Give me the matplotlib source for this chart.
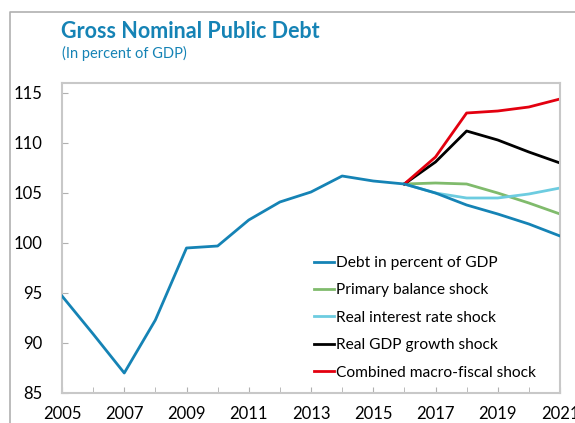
import matplotlib.pyplot as plt
from matplotlib.lines import Line2D

plt.rcParams['font.family'] = ['Lato', 'DejaVu Sans']

# data
years_hist = list(range(2005, 2022))
debt = [94.7, 90.9, 87.0, 92.3, 99.5, 99.7, 102.3, 104.1, 105.1, 106.7,
        106.2, 105.9, 105.0, 103.8, 102.9, 101.9, 100.7]
years_shock = list(range(2016, 2022))
primary_balance = [105.9, 106.0, 105.9, 105.0, 104.0, 102.9]
real_interest = [105.9, 105.0, 104.5, 104.5, 104.9, 105.5]
real_gdp = [105.9, 108.1, 111.2, 110.3, 109.1, 108.0]
combined = [105.9, 108.6, 113.0, 113.2, 113.6, 114.4]

labels = ['Debt in percent of GDP', 'Primary balance shock',
          'Real interest rate shock', 'Real GDP growth shock',
          'Combined macro-fiscal shock']
colors = ['#1583b5', '#80bb6c', '#6dcce0', '#000000', '#e3000f']

W, H = 575, 423
fig = plt.figure(figsize=(W / 100, H / 100), dpi=100)
ax = fig.add_axes([62 / W, 1 - 393 / H, (560 - 62) / W, (393 - 83) / H])

# outer frame (left and top only)
fig.add_artist(Line2D([10 / W, 10 / W, 1.0], [0.0, 1 - 12 / H, 1 - 12 / H],
                      color='#b0b0b0', lw=1.2, transform=fig.transFigure))

fig.text(61 / W, 1 - 32 / H, 'Gross Nominal Public Debt', color='#1583b5',
         fontsize=15.5, fontweight='bold', va='center', ha='left')
fig.text(62 / W, 1 - 53 / H, '(In percent of GDP)', color='#1583b5',
         fontsize=10.5, va='center', ha='left')

ax.plot(years_hist, debt, color=colors[0], lw=2, label=labels[0], zorder=3)
ax.plot(years_shock, primary_balance, color=colors[1], lw=2, label=labels[1])
ax.plot(years_shock, real_interest, color=colors[2], lw=2, label=labels[2])
ax.plot(years_shock, real_gdp, color=colors[3], lw=2, label=labels[3])
ax.plot(years_shock, combined, color=colors[4], lw=2, label=labels[4])

ax.set_xlim(2005, 2021)
ax.set_ylim(85, 116)
ax.set_xticks(range(2005, 2022, 2))
ax.set_xticks(range(2005, 2022), minor=True)
ax.set_yticks(range(85, 116, 5))
ax.tick_params(axis='x', which='both', direction='in', length=4,
               color='#b0b0b0', labelsize=12, pad=9)
ax.tick_params(axis='y', direction='in', length=4, color='#b0b0b0',
               labelsize=12, pad=14)
for s in ax.spines.values():
    s.set_color('#c8c8c8')
    s.set_linewidth(1.5)

ax.legend(loc='upper left', bbox_to_anchor=((314 - 62) / (560 - 62), (393 - 256) / (393 - 83)),
          frameon=False, fontsize=11.2, handlelength=1.3, handletextpad=0.1,
          labelspacing=0.86, borderaxespad=0, borderpad=0)

fig.savefig('out.png', dpi=100)
